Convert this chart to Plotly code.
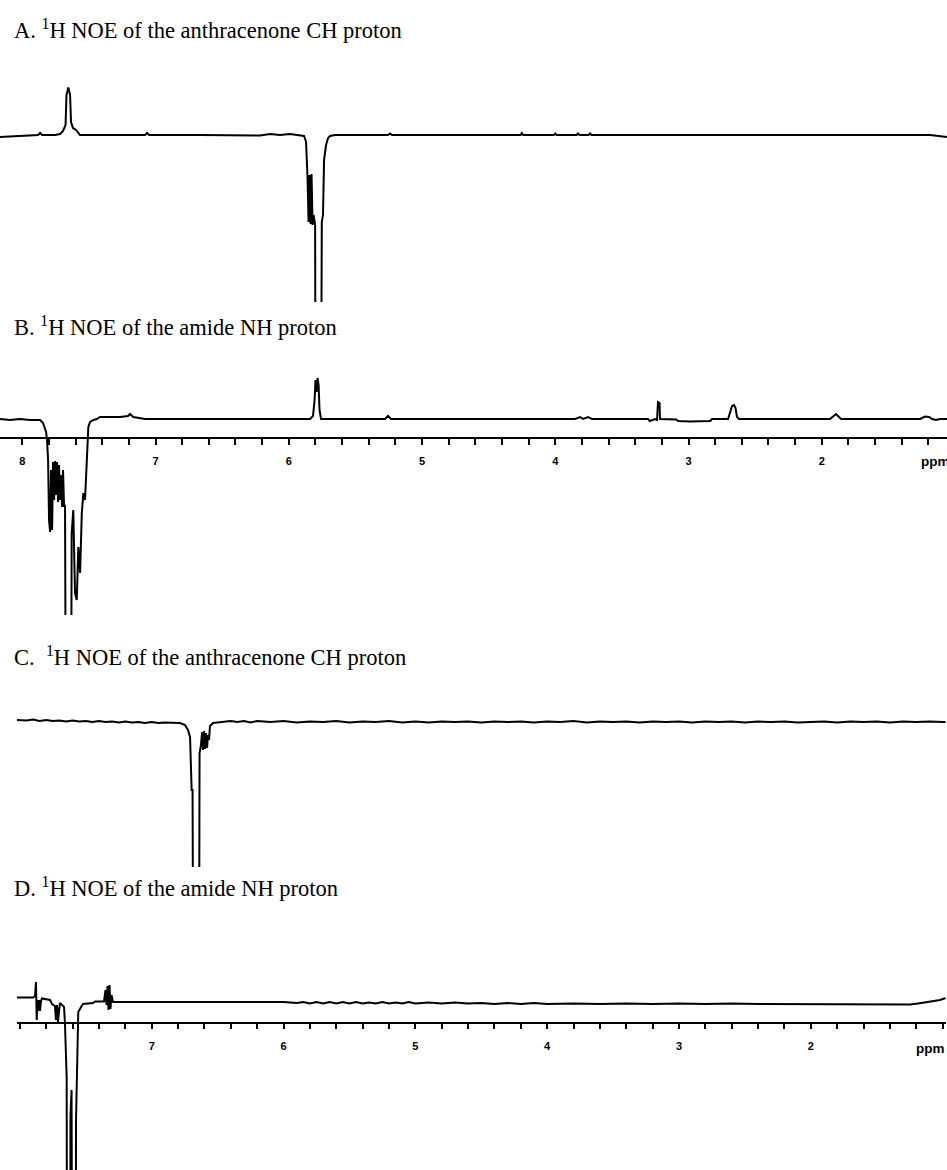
import plotly.graph_objects as go

# ---------------- data (chemical shift in ppm, signal intensity in arbitrary units) -------------
# Panel A: 1H NOE of the anthracenone CH proton (irradiated at ~5.78 ppm)
A_points = [
    (8.167, -2), (8.017, -1), (7.881, 0), (7.866, 2), (7.851, 0), (7.754, 0), (7.716, 1),
    (7.694, 4), (7.675, 10), (7.668, 40), (7.654, 47.5), (7.641, 40), (7.634, 13), (7.619, 7),
    (7.596, 5), (7.566, 0), (7.416, 0), (7.078, 0), (7.063, 2), (7.048, 0), (6.666, 0),
    (6.215, -0.5), (6.140, 1), (6.065, 0), (5.990, 1), (5.915, 0), (5.885, -1), (5.870, -7),
    (5.862, -25), (5.859, -43), (5.851, -87), (5.844, -40), (5.836, -89), (5.829, -39),
    (5.821, -90), (5.814, -80), (5.802, -90), (5.799, -300), (5.758, -300), (5.752, -87),
    (5.743, -80), (5.735, -25), (5.720, -10), (5.705, -3), (5.690, -1), (5.653, 0),
    (5.255, 0), (5.240, 1.5), (5.225, 0), (4.260, 0), (4.251, 2), (4.240, 0), (4.010, 0),
    (4.001, 1.5), (3.990, 0), (3.840, 0), (3.829, 1.5), (3.818, 0), (3.750, 0), (3.739, 1.5),
    (3.728, 0), (2.913, 0), (1.187, 0), (1.060, -2),
]

# Panel B: 1H NOE of the amide NH proton (irradiated at ~7.65 ppm)
B_points = [
    (8.167, 0), (8.092, -1), (8.017, 0), (7.941, -1), (7.866, -1), (7.844, -4), (7.821, -13),
    (7.814, -21), (7.806, -41), (7.799, -101), (7.791, -113), (7.784, -51), (7.776, -111),
    (7.769, -43), (7.761, -81), (7.754, -42), (7.746, -76), (7.739, -43), (7.731, -83),
    (7.724, -46), (7.716, -81), (7.709, -56), (7.701, -88), (7.694, -51), (7.686, -88),
    (7.679, -86), (7.671, -400), (7.636, -400), (7.629, -114), (7.617, -91), (7.604, -174),
    (7.591, -181), (7.579, -128), (7.566, -154), (7.553, -94), (7.541, -74), (7.529, -81),
    (7.516, -34), (7.504, -8), (7.491, -3), (7.466, -1), (7.441, 0), (7.416, 2), (7.266, 2),
    (7.206, 3), (7.191, 5), (7.168, 2), (7.078, 0), (6.666, 0), (6.065, 0), (5.840, 0),
    (5.818, 3), (5.806, 19), (5.799, 39), (5.791, 27), (5.784, 41), (5.776, 34), (5.769, 9),
    (5.758, 0), (5.277, 0), (5.255, 3), (5.232, 0), (3.851, 0), (3.814, 2), (3.791, 0),
    (3.754, 2), (3.724, 0), (3.304, 0), (3.290, -2), (3.251, 0), (3.236, -1), (3.229, 17),
    (3.217, 16), (3.214, 0), (3.093, -0.5), (3.078, -2), (2.988, -2.5), (2.838, -2),
    (2.823, 0), (2.703, 0), (2.688, 6), (2.673, 13), (2.658, 14), (2.647, 11), (2.636, 2),
    (2.621, 0), (1.938, 0), (1.893, 5), (1.855, 0), (1.262, 0), (1.224, 2.5), (1.194, 2),
    (1.172, 0), (1.142, -1), (1.112, 0), (1.060, 0),
]

# Panel C: 1H NOE of the anthracenone CH proton (irradiated at ~6.67 ppm)
C_points = [
    (8.022, 2), (7.95, 1.5), (7.90, 2.5), (7.85, 1), (7.80, 2), (7.75, 1), (7.70, 1.5),
    (7.65, 0.5), (7.60, 1.5), (7.55, 0.5), (7.50, 1), (7.45, 0), (7.40, 1), (7.35, 0),
    (7.30, 0.5), (7.25, -0.5), (7.20, 0.5), (7.15, -0.5), (7.10, 0), (7.05, -1), (7.00, 0),
    (6.95, -1), (6.90, -0.5), (6.85, -1), (6.785, -1), (6.747, -3), (6.725, -8), (6.709, -15),
    (6.702, -38), (6.697, -68), (6.690, -68), (6.684, -300), (6.641, -300), (6.637, -31),
    (6.626, -23), (6.618, -10), (6.611, -28), (6.603, -9), (6.596, -27), (6.588, -11),
    (6.580, -26), (6.573, -13), (6.565, -18), (6.558, -4), (6.535, -1), (6.482, 0),
    (6.40, 1), (6.35, 0), (6.30, 1), (6.25, -0.5), (6.20, 1), (6.10, 0), (6.00, 1),
    (5.90, -0.5), (5.80, 0.5), (5.70, 0), (5.60, 1), (5.50, -0.5), (5.40, 0.5), (5.30, 0),
    (5.20, 1), (5.10, -0.5), (5.00, 0.5), (4.90, -0.5), (4.80, 0.5), (4.70, 0), (4.60, 0.5),
    (4.50, -0.5), (4.40, 0.5), (4.30, 0), (4.20, 0.5), (4.10, -0.5), (4.00, 0.5), (3.90, 0),
    (3.80, 1), (3.70, -0.5), (3.60, 0.5), (3.50, 0), (3.40, 0.5), (3.30, -0.5), (3.20, 0.5),
    (3.10, 0), (3.00, 0.5), (2.90, -0.5), (2.80, 0.5), (2.70, 0), (2.60, 0.5), (2.50, -0.5),
    (2.40, 0.5), (2.30, 0), (2.20, 0.5), (2.10, -0.5), (2.00, 0), (1.90, 0.5), (1.80, -0.5),
    (1.70, 0.5), (1.60, 0), (1.50, 0.5), (1.40, -0.5), (1.30, 0.5), (1.20, 0), (1.10, 0.5),
    (1.00, 0), (0.977, 0),
]

# Panel D: 1H NOE of the amide NH proton (irradiated at ~7.61 ppm)
D_points = [
    (8.024, 4.5), (7.900, 4.5), (7.885, 6), (7.878, 20), (7.872, -18), (7.866, 2), (7.860, -9),
    (7.855, 2), (7.847, -9), (7.840, 1), (7.832, 3.5), (7.802, 3), (7.771, 2), (7.756, -2),
    (7.734, -4), (7.726, -18), (7.718, -3), (7.711, -20), (7.703, -6), (7.696, -1), (7.680, -3),
    (7.665, -5), (7.658, -21), (7.650, -58), (7.645, -75), (7.641, -400), (7.620, -400),
    (7.616, -113), (7.608, -88), (7.601, -400), (7.578, -400), (7.574, -118), (7.569, -74),
    (7.564, -31), (7.557, -10), (7.531, -4), (7.521, -2), (7.445, -1), (7.430, 0.5),
    (7.362, 0.5), (7.350, 12), (7.343, -3), (7.335, 16), (7.328, -8), (7.320, 17), (7.313, -7),
    (7.305, 7), (7.294, 0), (7.2, 0), (7.0, 0), (6.8, 0), (6.6, -0.5), (6.4, 0), (6.2, -0.5),
    (6.0, 0), (5.9, -1), (5.85, 0), (5.8, -1.5), (5.75, 0), (5.7, -1.5), (5.65, 0), (5.6, -1.5),
    (5.55, 0), (5.5, -1.5), (5.45, 0), (5.4, -1.5), (5.35, -0.5), (5.3, -1.5), (5.25, 0),
    (5.2, -1.5), (5.15, -0.5), (5.1, -1.5), (5.05, 0), (5.0, -1.5), (4.9, -0.5), (4.8, -1.5),
    (4.7, -0.5), (4.6, -1.5), (4.5, -1), (4.4, -2), (4.3, -1), (4.2, -2), (4.1, -1), (4.0, -2),
    (3.8, -1.5), (3.6, -2), (3.4, -1.5), (3.2, -2), (3.0, -1.5), (2.8, -2), (2.6, -1.5),
    (2.4, -2), (2.2, -2), (2.0, -2), (1.8, -2), (1.6, -2), (1.4, -2), (1.25, -2.5),
    (1.187, -1.5), (1.096, 0), (1.020, 2), (0.977, 4),
]

# axis ticks (ppm): labelled major ticks; unlabelled minor ticks every 0.2 ppm
B_major_ticks = [8, 7, 6, 5, 4, 3, 2]
B_major_labels = ["8", "7", "6", "5", "4", "3", "2"]
D_major_ticks = [7, 6, 5, 4, 3, 2]
D_major_labels = ["7", "6", "5", "4", "3", "2"]
minor_step = 0.2

titles = [
    "A. <sup>1</sup>H NOE of the anthracenone CH proton",
    "B. <sup>1</sup>H NOE of the amide NH proton",
    "C.\u00a0 <sup>1</sup>H NOE of the anthracenone CH proton",
    "D. <sup>1</sup>H NOE of the amide NH proton",
]

# ---------------- layout geometry ----------------
W, H = 947, 1170


def py(px):  # pixel row -> paper y
    return 1 - px / H


def px_x(px):
    return px / W


fig = go.Figure()
panels = [A_points, B_points, C_points, D_points]
for i, pts in enumerate(panels):
    sfx = "" if i == 0 else str(i + 1)
    fig.add_trace(go.Scatter(
        x=[p[0] for p in pts], y=[p[1] for p in pts], mode="lines",
        line=dict(color="black", width=2), xaxis="x" + sfx, yaxis="y" + sfx,
        showlegend=False, hoverinfo="skip"))

tickfont = dict(family="Liberation Sans", size=11, color="black", weight="bold")
ppmfont = dict(family="Liberation Sans", size=13.5, color="black", weight="bold")
hidden = dict(visible=False, showgrid=False, zeroline=False)
tickstyle = dict(ticks="outside", ticklen=6, tickwidth=1.5, tickcolor="black")


def ppm_axis(domain, rng, pos, vals, labels):
    return dict(domain=domain, range=rng, anchor="free", position=pos,
                showline=True, linecolor="black", linewidth=1.5, tickmode="array",
                tickvals=vals, ticktext=labels, tickfont=tickfont, ticklabelstandoff=7,
                showgrid=False, zeroline=False,
                minor=dict(dtick=minor_step, tick0=0, showgrid=False, **tickstyle),
                **tickstyle)


fig.update_layout(
    width=W, height=H, margin=dict(l=0, r=0, t=0, b=0),
    paper_bgcolor="white", plot_bgcolor="rgba(0,0,0,0)",
    showlegend=False,
    # Panel A
    xaxis=dict(domain=[0, 1], range=[8.167, 1.060], **hidden),
    yaxis=dict(domain=[py(302), py(55)], range=[-167, 80], **hidden),
    # Panel B (with ppm axis)
    xaxis2=ppm_axis([0, 1], [8.167, 1.060], py(438), B_major_ticks, B_major_labels),
    yaxis2=dict(domain=[py(615), py(360)], range=[-196, 59], **hidden),
    # Panel C
    xaxis3=dict(domain=[px_x(16.7), px_x(945.7)], range=[8.024, 0.977], **hidden),
    yaxis3=dict(domain=[py(867), py(690)], range=[-145, 32], **hidden),
    # Panel D (with ppm axis)
    xaxis4=ppm_axis([px_x(16.7), px_x(945.7)], [8.024, 0.977], py(1022.7),
                    D_major_ticks, D_major_labels),
    yaxis4=dict(domain=[0, py(960)], range=[-168, 42], **hidden),
)

title_rows = [29, 326, 656, 887]
for t, row in zip(titles, title_rows):
    fig.add_annotation(text=t, xref="paper", yref="paper", x=px_x(12), y=py(row),
                       xanchor="left", yanchor="middle", showarrow=False,
                       font=dict(family="Liberation Serif", size=22.5, color="black"))

for xpx, row in [(919, 462), (914, 1048)]:
    fig.add_annotation(text="ppm", xref="paper", yref="paper", x=px_x(xpx), y=py(row),
                       xanchor="left", yanchor="middle", showarrow=False,
                       font=ppmfont)

fig.write_html("out.html",
               config={"displayModeBar": False},
               post_script="document.body.style.margin='0px';"
                           "document.body.style.overflow='hidden';")
